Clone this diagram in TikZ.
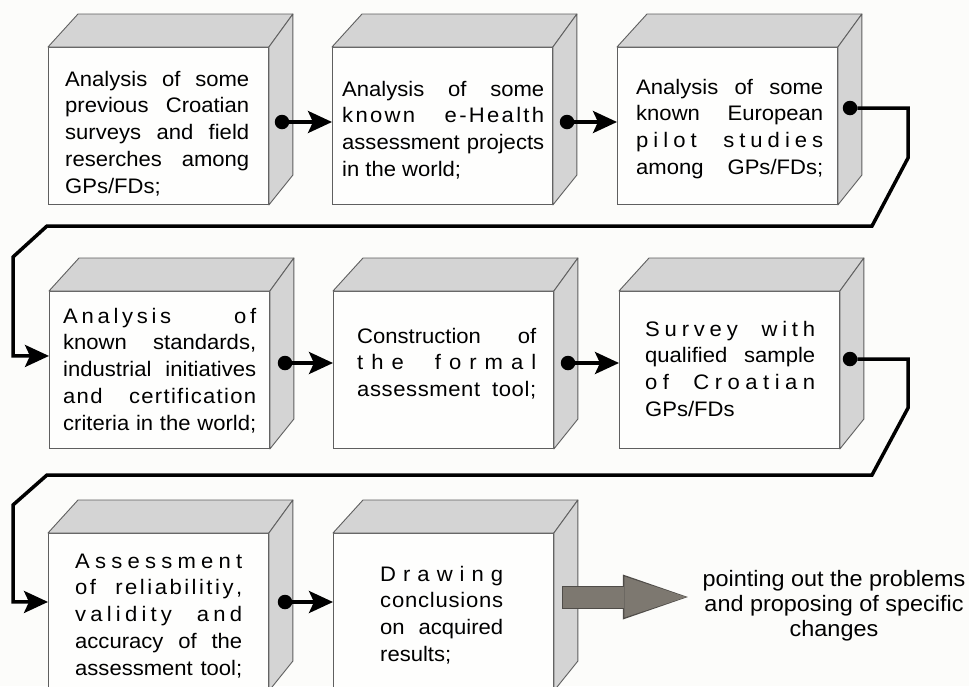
\documentclass[tikz,border=0pt]{standalone}
\usepackage{fontspec}
\setmainfont{Liberation Sans}[FakeStretch=1.05]
\usetikzlibrary{arrows.meta}

\definecolor{paper}{HTML}{FCFCFA}
\definecolor{frontwhite}{HTML}{FEFEFD}
\definecolor{facegray}{HTML}{D4D4D4}
\definecolor{edgegray}{HTML}{5F5F5F}
\definecolor{arrowgray}{HTML}{7D7870}
\definecolor{arrowedge}{HTML}{4F4C48}

% text lines: \ls{letter gap}{words} justified, \jl justified, \nl natural, \cl centred
\ExplSyntaxOn
\cs_new_protected:Npn \rk_word:nn #1#2
  {
    \bool_set_true:N \l_tmpb_bool
    \tl_map_inline:nn {#2}
      {
        \bool_if:NF \l_tmpb_bool { \hskip #1 \scan_stop: }
        \bool_set_false:N \l_tmpb_bool
        ##1
      }
  }
\NewDocumentCommand \ls { m m }
  {
    \par
    \hbox_to_wd:nn { \hsize }
      {
        \seq_set_split:Nnn \l_tmpa_seq { ~ } {#2}
        \bool_set_true:N \l_tmpa_bool
        \seq_map_inline:Nn \l_tmpa_seq
          {
            \bool_if:NF \l_tmpa_bool { \hskip 0.278em plus 1fil \scan_stop: }
            \bool_set_false:N \l_tmpa_bool
            \rk_word:nn {#1} {##1}
          }
      }
  }
\NewDocumentCommand \jl { m } { \ls { 0pt } {#1} }
\NewDocumentCommand \nl { m } { \par \hbox:n {#1} }
\NewDocumentCommand \cl { m } { \par \hbox_to_wd:nn { \hsize } { \hfil #1 \hfil } }
\ExplSyntaxOff

\newcommand\boxtext[2]{\vtop{\hsize=#1pt\relax #2}}

% front face as node, top and side faces drawn from its anchors
\newcommand\cube[3]{%
  \node[front] (#1) at (#2,#3) {};
  \filldraw[face] (#1.north west) -- ++(30,-33) -- ([shift={(24,-33)}]#1.north east) -- (#1.north east) -- cycle;
  \filldraw[face] (#1.north east) -- ++(24,-33) -- ++(0,161) -- (#1.south east) -- cycle;
}

\begin{document}
\begin{tikzpicture}[x=1pt,y=-1pt,
  front/.style={anchor=north west, inner sep=0, minimum width=220pt, minimum height=157pt,
    draw=edgegray, fill=frontwhite, line width=.9pt},
  face/.style={fill=facegray, draw=edgegray, line width=.9pt, line join=round},
  dot/.style={circle, fill, inner sep=0, minimum size=14.5pt},
  link/.style={line width=3.5pt, -{Stealth[length=24pt,width=22pt,inset=5pt]}},
  txt/.style={anchor=base west, inner sep=0, font=\fontsize{21}{26.8}\selectfont},
  outtxt/.style={anchor=base, inner sep=0, font=\fontsize{22.3}{25}\selectfont},
  bigedge/.style={line width=23pt, draw=arrowedge, shorten >=6pt,
    -{Triangle[length=65pt,width=45pt,line width=0pt]}},
  bigbody/.style={line width=21pt, draw=arrowgray, shorten >=7.5pt,
    -{Triangle[length=62pt,width=41pt,line width=0pt]}}]
\useasboundingbox (0,0) rectangle (969,686);
\clip (0,0) rectangle (969,686);
\fill[paper] (0,0) rectangle (969,686);

% row 1
\cube{b1}{48}{47}
\cube{b2}{332}{47}
\cube{b3}{617}{47}
\node[txt] (t1) at (65,86) {\boxtext{184}{\jl{Analysis of some}\jl{previous Croatian}\jl{surveys and field}\jl{reserches among}\nl{GPs/FDs;}}};
\node[txt] (t2) at (342,96) {\boxtext{202}{\jl{Analysis of some}\ls{2.3pt}{known e-Health}\jl{assessment projects}\nl{in the world;}}};
\node[txt] (t3) at (636,94) {\boxtext{187}{\jl{Analysis of some}\jl{known European}\ls{5pt}{pilot studies}\jl{among GPs/FDs;}}};

% row 2
\cube{b4}{49}{291}
\cube{b5}{333}{291}
\cube{b6}{619}{291}
\node[txt] (t4) at (63,323) {\boxtext{193}{\ls{3.7pt}{Analysis of}\jl{known standards,}\jl{industrial initiatives}\ls{1.3pt}{and certification}\jl{criteria in the world;}}};
\node[txt] (t5) at (357,343) {\boxtext{179}{\jl{Construction of}\ls{8pt}{the formal}\ls{0.6pt}{assessment tool;}}};
\node[txt] (t6) at (645,336) {\boxtext{170}{\ls{4.8pt}{Survey with}\jl{qualified sample}\ls{5.5pt}{of Croatian}\nl{GPs/FDs}}};

% row 3
\cube{b7}{48}{533}
\cube{b8}{333}{533}
\node[txt] (t7) at (75,568) {\boxtext{167}{\ls{0pt plus 1fil}{Assessment}\ls{2.5pt}{of reliabilitiy,}\ls{4.2pt}{validity and}\jl{accuracy of the}\jl{assessment tool;}}};
\node[txt] (t8) at (380,581) {\boxtext{123}{\ls{0pt plus 1fil}{Drawing}\ls{0pt plus 1fil}{conclusions}\jl{on acquired}\nl{results;}}};

\node[outtxt] (out) at (834,586) {\boxtext{280}{\cl{pointing out the problems}\cl{and proposing of specific}\cl{changes}}};

% connectors
\node[dot] (d1) at (282,122) {};
\node[dot] (d2) at (567,122) {};
\node[dot] (d3) at (850,108) {};
\node[dot] (d4) at (285,363) {};
\node[dot] (d5) at (568,363) {};
\node[dot] (d6) at (850,359) {};
\node[dot] (d7) at (285,602) {};
\draw[link] (d1) -- (d1 -| b2.west);
\draw[link] (d2) -- (d2 -| b3.west);
\draw[link] (d3) -- ++(58,0) -- ++(0,50) -- ++(-36,68) -- ++(-825,0) -- ++(-34,31) |- ([yshift=14pt]b4.west);
\draw[link] (d4) -- (d4 -| b5.west);
\draw[link] (d5) -- (d5 -| b6.west);
\draw[link] (d6) -- ++(58,0) -- ++(0,49) -- ++(-36,67) -- ++(-825,0) -- ++(-34,30) |- ([yshift=10pt]b7.west);
\draw[link] (d7) -- (d7 -| b8.west);

\coordinate (g0) at (563,597);
\draw[bigedge] ([xshift=-1pt]g0) -- (g0 -| out.west);
\draw[bigbody] (g0) -- (g0 -| out.west);
\end{tikzpicture}
\end{document}
